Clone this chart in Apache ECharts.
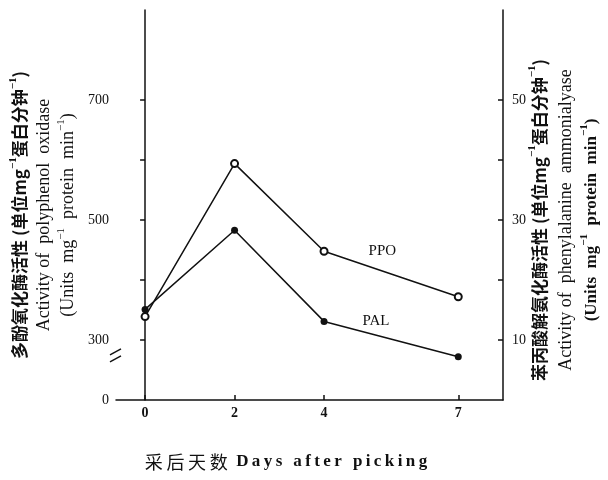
<!DOCTYPE html>
<html><head><meta charset="utf-8">
<script src="https://cdn.jsdelivr.net/npm/echarts@6/dist/echarts.min.js"></script>
<style>html,body{margin:0;padding:0;background:#fff}#c{width:608px;height:480px}</style>
</head><body><div id="c"></div>
<script>
const days = [0, 2, 4, 7];
const ppo = [339, 594, 448, 372];
const pal = [15.1, 28.3, 13.1, 7.2];
const xTicks = [0, 2, 4, 7];
const leftTicks = [300, 400, 500, 600, 700];
const leftLabels = [200, 300, 500, 700]; // 200 drawn as "0" (broken axis)
const rightTicks = [10, 20, 30, 40, 50];
const rightLabels = [10, 30, 50];
const breakAt = 272;

const serif = '"Liberation Serif", "DejaVu Serif", serif';
const cjk = '"Noto Sans CJK SC", sans-serif';
function richSet(lh) {
  return {
    cn: {fontFamily: cjk, fontSize: 17, fontWeight: 'bold', color: '#111', lineHeight: lh},
    cs: {fontFamily: serif, fontSize: 11, fontWeight: 'bold', color: '#111', verticalAlign: 'top', lineHeight: lh - 6},
    en: {fontFamily: serif, fontSize: 18, color: '#111', lineHeight: lh},
    es: {fontFamily: serif, fontSize: 11, color: '#111', verticalAlign: 'top', lineHeight: lh - 6},
    eb: {fontFamily: serif, fontSize: 17, fontWeight: 'bold', color: '#111', lineHeight: lh},
    ebs: {fontFamily: serif, fontSize: 11, fontWeight: 'bold', color: '#111', verticalAlign: 'top', lineHeight: lh - 6}
  };
}
const leftName = '{cn|多酚氧化酶活性 (单位mg}{cs|−1}{cn|蛋白分钟}{cs|−1}{cn|)}\n' +
  '{en|Activity of  polyphenol  oxidase}\n' +
  '{en|(Units  mg}{es|−1}{en|  protein  min}{es|−1}{en|)}';
const rightName = '{cn|苯丙酸解氨化酶活性 (单位mg}{cs|−1}{cn|蛋白分钟}{cs|−1}{cn|)}\n' +
  '{en|Activity of  phenylalanine  ammonialyase}\n' +
  '{eb|(Units  mg}{ebs|−1}{eb|  protein  min}{ebs|−1}{eb|)}';
const xNameCn = '采\u2009后\u2009天\u2009数';
const xNameEn = 'Days after picking'.split('').join('\u2009');

const axisLine = {show: true, lineStyle: {color: '#111', width: 1.5}};
const chart = echarts.init(document.getElementById('c'));
chart.setOption({
  backgroundColor: '#fff',
  animation: false,
  grid: {left: 116, top: 10, width: 387, height: 390, containLabel: false, outerBoundsMode: 'none'},
  xAxis: {
    type: 'value', min: -0.65, max: 8,
    axisLine: axisLine,
    splitLine: {show: false},
    axisTick: {show: true, inside: true, length: 5, customValues: xTicks, lineStyle: {color: '#111', width: 1.5}},
    axisLabel: {customValues: xTicks, color: '#111', fontFamily: serif, fontSize: 14, fontWeight: 'bold', margin: 6}
  },
  yAxis: [{
    type: 'value', min: 200, max: 850, position: 'left',
    axisLine: axisLine,
    splitLine: {show: false},
    axisTick: {show: true, inside: false, length: 5, customValues: leftTicks, lineStyle: {color: '#111', width: 1.5}},
    axisLabel: {customValues: leftLabels, color: '#111', fontFamily: serif, fontSize: 14, margin: 7,
      formatter: v => v === 200 ? '0' : String(v)},
    name: leftName, nameLocation: 'middle', nameRotate: 90, nameGap: 36,
    nameTextStyle: {rich: richSet(24), align: 'center', padding: [0, 20, 0, 0]}
  }, {
    type: 'value', min: 0, max: 65, position: 'right',
    axisLine: axisLine,
    splitLine: {show: false},
    axisTick: {show: true, inside: true, length: 5, customValues: rightTicks, lineStyle: {color: '#111', width: 1.5}},
    axisLabel: {customValues: rightLabels, color: '#111', fontFamily: serif, fontSize: 14, margin: 9},
    name: rightName, nameLocation: 'middle', nameRotate: 90, nameGap: 24, nameMoveOverlap: false,
    nameTextStyle: {rich: richSet(26), align: 'center', padding: [0, 30, 0, 0]}
  }],
  series: [{
    name: 'PPO', type: 'line', yAxisIndex: 0,
    data: days.map((d, i) => i === 2 ? {value: [d, ppo[i]], label: {show: true, position: 'right', distance: 40, formatter: 'PPO'}} : [d, ppo[i]]),
    symbol: 'emptyCircle', symbolSize: 7,
    lineStyle: {color: '#111', width: 1.5},
    itemStyle: {color: '#111', borderWidth: 1.5},
    label: {color: '#111', fontFamily: serif, fontSize: 15}
  }, {
    name: 'PAL', type: 'line', yAxisIndex: 1,
    data: days.map((d, i) => i === 2 ? {value: [d, pal[i]], label: {show: true, position: 'right', distance: 35, formatter: 'PAL'}} : [d, pal[i]]),
    symbol: 'circle', symbolSize: 7,
    lineStyle: {color: '#111', width: 1.5},
    itemStyle: {color: '#111'},
    label: {color: '#111', fontFamily: serif, fontSize: 15}
  }]
});

const bp = chart.convertToPixel({xAxisIndex: 0, yAxisIndex: 0}, [-0.65, breakAt]);
chart.setOption({
  graphic: [
    {type: 'rect', shape: {x: bp[0] - 3, y: bp[1] - 3, width: 6, height: 5}, style: {fill: '#fff'}, z: 100},
    {type: 'line', shape: {x1: bp[0] - 6, y1: bp[1] - 2, x2: bp[0] + 5, y2: bp[1] - 8}, style: {stroke: '#111', lineWidth: 1.5}, z: 101},
    {type: 'line', shape: {x1: bp[0] - 6, y1: bp[1] + 5, x2: bp[0] + 5, y2: bp[1] - 1}, style: {stroke: '#111', lineWidth: 1.5}, z: 101},
    {type: 'text', x: 286, y: 462, style: {
      text: '{c|' + xNameCn + '}{e|  ' + xNameEn + '}', fill: '#111', textAlign: 'center', textVerticalAlign: 'middle',
      rich: {
        c: {fontFamily: cjk, fontSize: 18, fontWeight: 'normal', fill: '#111'},
        e: {fontFamily: serif, fontSize: 17, fontWeight: 'bold', fill: '#111'}
      }}, z: 10}
  ]
});
</script></body></html>
